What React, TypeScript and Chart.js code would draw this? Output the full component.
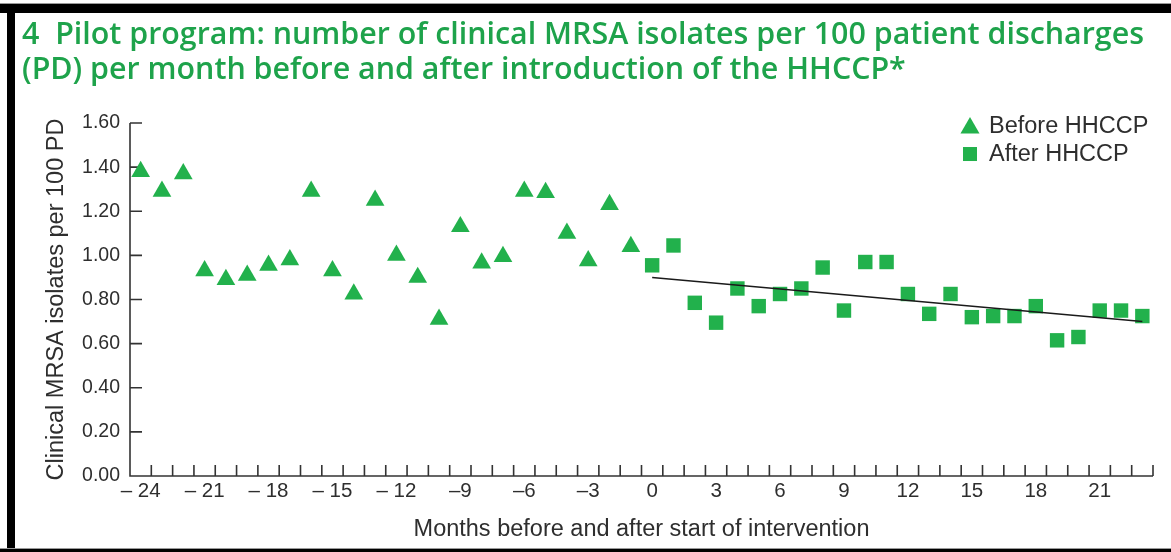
import React, { useEffect, useRef } from 'react';
import { Chart, registerables } from 'chart.js';

Chart.register(...registerables);

// ---------- data ----------
const titleLines = [
  '4  Pilot program: number of clinical MRSA isolates per 100 patient discharges',
  '(PD) per month before and after introduction of the HHCCP*',
];
const yAxisTitle = 'Clinical MRSA isolates per 100 PD';
const xAxisTitle = 'Months before and after start of intervention';

const beforeLabel = 'Before HHCCP';
const afterLabel = 'After HHCCP';

const beforeMonths = [-24, -23, -22, -21, -20, -19, -18, -17, -16, -15, -14, -13, -12, -11, -10, -9, -8, -7, -6, -5, -4, -3, -2, -1];
const beforeValues = [1.38, 1.29, 1.37, 0.93, 0.89, 0.91, 0.955, 0.98, 1.29, 0.93, 0.825, 1.25, 1.0, 0.9, 0.71, 1.13, 0.965, 0.995, 1.29, 1.285, 1.1, 0.975, 1.23, 1.04];

const afterMonths = [0, 1, 2, 3, 4, 5, 6, 7, 8, 9, 10, 11, 12, 13, 14, 15, 16, 17, 18, 19, 20, 21, 22, 23];
const afterValues = [0.955, 1.045, 0.785, 0.695, 0.85, 0.77, 0.825, 0.85, 0.945, 0.75, 0.97, 0.97, 0.825, 0.735, 0.825, 0.72, 0.725, 0.725, 0.77, 0.615, 0.63, 0.75, 0.75, 0.725];

const trendMonths = [0, 23];
const trendValues = [0.9, 0.7];

const xTickValues = [-24, -21, -18, -15, -12, -9, -6, -3, 0, 3, 6, 9, 12, 15, 18, 21];
const xTickLabels = ['\u2013 24', '\u2013 21', '\u2013 18', '\u2013 15', '\u2013 12', '\u20139', '\u20136', '\u20133', '0', '3', '6', '9', '12', '15', '18', '21'];
const yTickValues = [0, 0.2, 0.4, 0.6, 0.8, 1.0, 1.2, 1.4, 1.6];
const yTickLabels = ['0.00', '0.20', '0.40', '0.60', '0.80', '1.00', '1.20', '1.40', '1.60'];

const X_MIN = -24.5;
const X_MAX = 23.5;
const Y_MIN = 0;
const Y_MAX = 1.6;

// ---------- style ----------
const GREEN = '#22b14c';
const TITLE_GREEN = '#1ea34b';
const TEXT = '#2e2e2e';
const AXIS = '#333333';
const FONT = "'Liberation Sans', Arial, sans-serif";

const axesPlugin = {
  id: 'inwardAxes',
  beforeDatasetsDraw(chart: any) {
    const { ctx, scales } = chart;
    const xs = scales.x;
    const ys = scales.y;
    const x0 = xs.getPixelForValue(X_MIN);
    const x1 = xs.getPixelForValue(X_MAX);
    const y0 = ys.getPixelForValue(Y_MIN);
    const y1 = ys.getPixelForValue(Y_MAX);
    ctx.save();
    ctx.strokeStyle = AXIS;
    ctx.lineWidth = 1.6;
    ctx.beginPath();
    ctx.moveTo(x0, y1);
    ctx.lineTo(x0, y0);
    ctx.lineTo(x1, y0);
    // minor ticks between months, pointing up into the plot
    [...beforeMonths, ...afterMonths].forEach((m) => {
      const px = xs.getPixelForValue(m + 0.5);
      ctx.moveTo(px, y0);
      ctx.lineTo(px, y0 - 11);
    });
    yTickValues.forEach((v) => {
      if (v === Y_MIN) return;
      const py = ys.getPixelForValue(v);
      ctx.moveTo(x0, py);
      ctx.lineTo(x0 + 12, py);
    });
    ctx.stroke();
    ctx.restore();
  },
  afterDraw(chart: any) {
    const { ctx, chartArea } = chart;
    const mx = chartArea.right - 183;
    const tx = chartArea.right - 164;
    ctx.save();
    ctx.fillStyle = GREEN;
    // triangle
    const r = 11;
    const ty = chartArea.top + 5;
    ctx.beginPath();
    ctx.moveTo(mx, ty - r);
    ctx.lineTo(mx + r * 0.866, ty + r / 2);
    ctx.lineTo(mx - r * 0.866, ty + r / 2);
    ctx.closePath();
    ctx.fill();
    // square
    const sy = chartArea.top + 31;
    ctx.fillRect(mx - 7, sy - 7, 14, 14);
    ctx.fillStyle = TEXT;
    ctx.font = `23.5px ${FONT}`;
    ctx.textAlign = 'left';
    ctx.textBaseline = 'alphabetic';
    ctx.fillText(beforeLabel, tx, chartArea.top + 9.7);
    ctx.fillText(afterLabel, tx, chartArea.top + 37.7);
    ctx.restore();
  },
};

export default function App() {
  const ref = useRef<HTMLCanvasElement | null>(null);

  useEffect(() => {
    if (!ref.current) return;
    const chart = new Chart(ref.current, {
      type: 'scatter',
      data: {
        datasets: [
          {
            type: 'line',
            label: 'Trend',
            data: trendMonths.map((m, i) => ({ x: m, y: trendValues[i] })),
            borderColor: '#1a1a1a',
            borderWidth: 1.6,
            pointRadius: 0,
            fill: false,
            order: 0,
          } as any,
          {
            label: beforeLabel,
            data: beforeMonths.map((m, i) => ({ x: m, y: beforeValues[i] })),
            pointStyle: 'triangle',
            pointRadius: 10.8,
            backgroundColor: GREEN,
            borderColor: GREEN,
            borderWidth: 0,
            order: 1,
          },
          {
            label: afterLabel,
            data: afterMonths.map((m, i) => ({ x: m, y: afterValues[i] })),
            pointStyle: 'rect',
            pointRadius: 10.2,
            backgroundColor: GREEN,
            borderColor: GREEN,
            borderWidth: 0,
            order: 2,
          },
        ],
      },
      options: {
        responsive: false,
        animation: false,
        devicePixelRatio: 1,
        layout: { padding: { left: 22, right: 18, top: 0, bottom: 0 } },
        plugins: {
          legend: { display: false },
          tooltip: { enabled: false },
          title: {
            display: true,
            text: titleLines,
            align: 'start',
            color: TITLE_GREEN,
            font: { family: "'Open Sans', sans-serif", size: 30.4, weight: '600', lineHeight: 1.15 },
            padding: { top: 18, bottom: 35.1 },
          },
        },
        scales: {
          x: {
            type: 'linear',
            min: X_MIN,
            max: X_MAX,
            afterBuildTicks: (s: any) => {
              s.ticks = xTickValues.map((v) => ({ value: v }));
            },
            afterFit: (s: any) => {
              s.height = 76;
            },
            ticks: {
              autoSkip: false,
              maxRotation: 0,
              padding: 3,
              color: TEXT,
              font: { family: FONT, size: 20.5 },
              callback: (v: any) => {
                const i = xTickValues.indexOf(Number(v));
                return i >= 0 ? xTickLabels[i] : '';
              },
            },
            grid: { display: false, drawTicks: false },
            border: { display: false },
            title: {
              display: true,
              text: xAxisTitle,
              color: TEXT,
              font: { family: FONT, size: 23.5, lineHeight: 1.2 },
              padding: { top: 0, bottom: 8 },
            },
          },
          y: {
            type: 'linear',
            min: Y_MIN,
            max: Y_MAX,
            afterBuildTicks: (s: any) => {
              s.ticks = yTickValues.map((v) => ({ value: v }));
            },
            afterFit: (s: any) => {
              s.width = 108;
            },
            ticks: {
              padding: 10,
              color: TEXT,
              font: { family: FONT, size: 19.5 },
              callback: (v: any) => {
                const i = yTickValues.findIndex((t) => Math.abs(t - Number(v)) < 1e-9);
                return i >= 0 ? yTickLabels[i] : '';
              },
            },
            grid: { display: false, drawTicks: false },
            border: { display: false },
            title: {
              display: true,
              text: yAxisTitle,
              color: TEXT,
              font: { family: FONT, size: 23.5, lineHeight: 1.2 },
              padding: { top: 20, bottom: 0 },
            },
          },
        },
      },
      plugins: [axesPlugin],
    } as any);
    return () => chart.destroy();
  }, []);

  return (
    <div style={{ position: 'absolute', left: 0, top: 0, width: 1171, height: 552, background: '#fff', overflow: 'hidden' }}>
      <canvas ref={ref} width={1171} height={552} style={{ position: 'absolute', left: 0, top: 0, width: 1171, height: 552 }} />
      <div style={{ position: 'absolute', left: 0, top: 3, width: 1171, height: 1, background: '#9a9a9a' }} />
      <div style={{ position: 'absolute', left: 0, top: 4, width: 1171, height: 9, background: '#000' }} />
      <div style={{ position: 'absolute', left: 7, top: 4, width: 8, height: 548, background: '#000' }} />
      <div style={{ position: 'absolute', left: 0, top: 548, width: 1171, height: 1, background: '#9a9a9a' }} />
      <div style={{ position: 'absolute', left: 0, top: 549, width: 1171, height: 3, background: '#000' }} />
    </div>
  );
}
